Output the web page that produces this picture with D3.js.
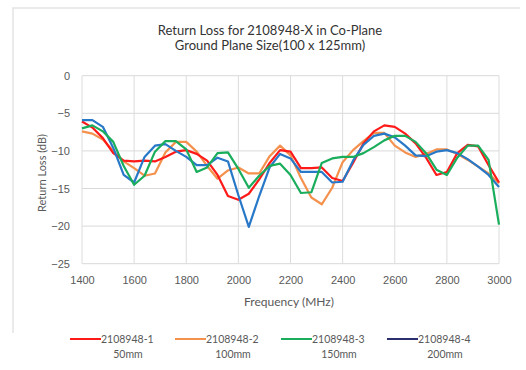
<!DOCTYPE html>
<html><head><meta charset="utf-8">
<script src="https://cdn.jsdelivr.net/npm/d3@7/dist/d3.min.js"></script>
<style>body{margin:0;background:#fff;} svg{display:block;font-family:Lato, "Open Sans", sans-serif;}</style>
</head><body><svg id="c" width="526" height="370"></svg>
<script>
const freqs = d3.range(1400, 3001, 40);
const yTicks = [0, -5, -10, -15, -20, -25];
const xTicks = [1400, 1600, 1800, 2000, 2200, 2400, 2600, 2800, 3000];
const seriesNames = ["2108948-1", "2108948-2", "2108948-3", "2108948-4"];
const seriesSizes = ["50mm", "100mm", "150mm", "200mm"];
const s1 = [-6.1,-6.9,-8.3,-10.3,-11.3,-11.4,-11.3,-11.4,-10.8,-10.1,-9.9,-10.4,-11.3,-13.2,-16.0,-16.5,-15.7,-13.8,-11.6,-9.9,-10.1,-12.3,-12.3,-12.2,-13.6,-14.0,-11.6,-9.0,-7.4,-6.6,-6.8,-7.7,-9.0,-10.9,-13.2,-12.8,-10.3,-9.2,-9.4,-11.9,-14.2];
const s2 = [-7.4,-7.7,-8.5,-10.0,-11.4,-12.3,-13.3,-13.0,-10.2,-8.8,-8.8,-10.1,-12.0,-13.7,-12.6,-12.2,-13.0,-13.0,-10.7,-9.3,-10.6,-13.6,-16.2,-17.1,-14.9,-11.5,-9.9,-8.7,-7.6,-7.6,-9.3,-10.2,-10.8,-10.4,-9.8,-9.8,-10.4,-11.2,-12.1,-13.0,-14.3];
const s3 = [-7.0,-6.6,-7.4,-8.8,-12.0,-14.5,-13.3,-10.1,-8.7,-8.7,-9.8,-12.8,-12.2,-10.3,-10.2,-12.4,-14.9,-13.3,-12.0,-11.7,-13.2,-15.6,-15.5,-11.6,-11.0,-10.8,-10.8,-10.3,-9.5,-8.6,-8.0,-8.0,-8.8,-10.3,-12.5,-13.2,-10.9,-9.3,-9.3,-11.2,-19.8];
const s4 = [-5.9,-5.9,-6.8,-9.6,-13.2,-14.2,-10.8,-9.3,-9.1,-10.0,-10.8,-11.9,-11.9,-10.9,-11.4,-15.9,-20.1,-16.0,-12.2,-10.4,-11.0,-12.8,-12.8,-12.8,-14.2,-14.1,-11.3,-9.2,-8.0,-7.7,-8.2,-9.3,-10.6,-10.7,-10.1,-9.9,-10.3,-11.1,-12.1,-13.2,-14.8];
const seriesData = [s1, s2, s3, s4];
const colors = ["#ff1a1a", "#f4914d", "#19ad5c", "#2878c8"];
const legendColors = ["#ff1a1a", "#f4914d", "#19ad5c", "#2c2f6e"];

const svg = d3.select("#c");
const L = 82, R = 499, T = 75.7, B = 263.7;
const x = d3.scaleLinear().domain([1400, 3000]).range([L, R]);
const y = d3.scaleLinear().domain([-25, 0]).range([B, T]);

// faint outer frame
svg.append("path").attr("d", "M13,333 L13,8 L520,8").attr("fill","none").attr("stroke","#e4e4e4").attr("stroke-width",1.5);

// grid
svg.append("g").selectAll("line.h").data(yTicks).join("line")
  .attr("x1", L).attr("x2", R).attr("y1", d=>y(d)).attr("y2", d=>y(d))
  .attr("stroke", "#d9d9d9").attr("stroke-width", 1);
svg.append("g").selectAll("line.v").data(xTicks).join("line")
  .attr("y1", T).attr("y2", B).attr("x1", d=>x(d)).attr("x2", d=>x(d))
  .attr("stroke", "#dcdcdc").attr("stroke-width", 1);

// axes labels
const yAxis = d3.axisLeft(y).tickValues(yTicks).tickSize(0).tickPadding(12);
const gy = svg.append("g").attr("transform", `translate(${L},0)`).call(yAxis);
gy.select(".domain").remove();
gy.selectAll("text").attr("fill", "#595959").style("font-size", "11px");
const xAxis = d3.axisBottom(x).tickValues(xTicks).tickSize(0).tickPadding(13).tickFormat(d3.format("d"));
const gx = svg.append("g").attr("transform", `translate(0,${B})`).call(xAxis);
gx.select(".domain").remove();
gx.selectAll("text").attr("fill", "#595959").style("font-size", "11px");

// lines
const line = d3.line().x((d,i)=>x(freqs[i])).y(d=>y(d)).curve(d3.curveLinear);
const order = [1, 0, 3, 2];
order.forEach(k => {
  svg.append("path").datum(seriesData[k]).attr("d", line)
    .attr("fill", "none").attr("stroke", colors[k]).attr("stroke-width", 2.2)
    .attr("stroke-linejoin", "round");
});

// titles
svg.append("text").attr("x", 270).attr("y", 35).attr("text-anchor","middle")
  .attr("fill","#333").style("font-size","13px").text("Return Loss for 2108948-X in Co-Plane");
svg.append("text").attr("x", 270).attr("y", 50).attr("text-anchor","middle")
  .attr("fill","#333").style("font-size","13px").text("Ground Plane Size(100 x 125mm)");
svg.append("text").attr("transform", "translate(46,173) rotate(-90)").attr("text-anchor","middle")
  .attr("fill","#595959").style("font-size","11px").text("Return Loss (dB)");
svg.append("text").attr("x", 289).attr("y", 306).attr("text-anchor","middle")
  .attr("fill","#595959").style("font-size","12px").text("Frequency (MHz)");

// legend
const legX = [70, 175, 281, 387];
const lg = svg.append("g");
seriesNames.forEach((n, i) => {
  const g = lg.append("g").attr("transform", `translate(${legX[i]},0)`);
  g.append("line").attr("x1", 0).attr("x2", 31).attr("y1", 339).attr("y2", 339)
    .attr("stroke", legendColors[i]).attr("stroke-width", 2);
  g.append("text").attr("x", 31).attr("y", 343).attr("fill","#595959").style("font-size","10.5px").text(n);
  g.append("text").attr("x", 58).attr("y", 358).attr("text-anchor","middle").attr("fill","#595959").style("font-size","10.5px").text(seriesSizes[i]);
});
</script></body></html>
